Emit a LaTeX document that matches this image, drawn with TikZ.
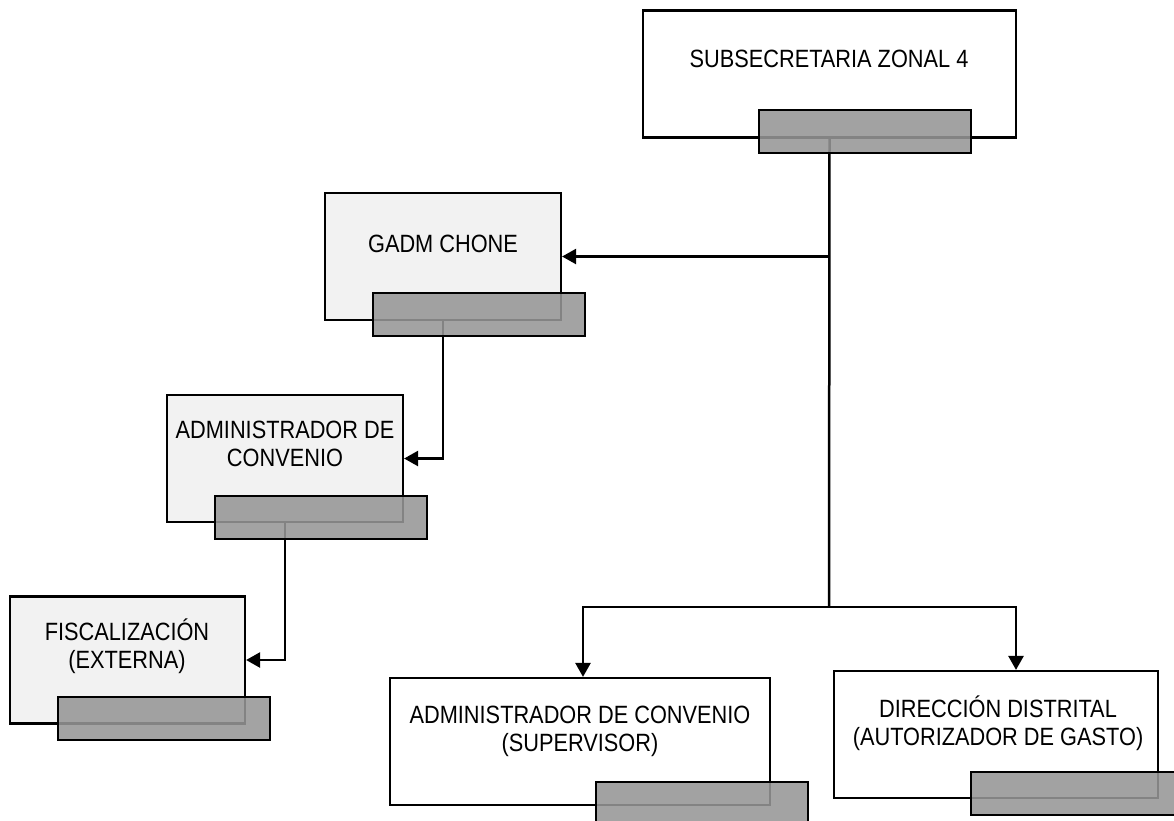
\documentclass[tikz,border=0pt]{standalone}
\usepackage{fontspec}
\setmainfont{Liberation Sans}[FakeStretch=0.87]
\usetikzlibrary{arrows.meta}

\definecolor{grisclaro}{RGB}{242,242,242}
\definecolor{grisbarra}{RGB}{150,150,150}

\begin{document}
\begin{tikzpicture}[x=1pt,y=-1pt,
    caja/.style={draw=black,line width=2.2pt,fill=white,inner sep=0pt,minimum height=127pt},
    cajagris/.style={caja,fill=grisclaro},
    barra/.style={draw=black,line width=2.2pt,fill=grisbarra,fill opacity=0.88,%
      inner sep=0pt,minimum width=212pt,minimum height=43pt,anchor=north west},
    texto/.style={align=center,inner sep=0pt,font=\fontsize{25}{28}\selectfont},
    linea/.style={line width=2.5pt},
    flecha/.style={line width=2.5pt,-{Triangle[length=14pt,width=15pt]}}]
      \useasboundingbox (0,0) rectangle (1174,820) ;
      % cajas
      \node[caja,minimum width=373pt] (zon) at (829.5,74) {} ;
      \node[cajagris,minimum width=236pt] (gadm) at (443,256.5) {} ;
      \node[cajagris,minimum width=236pt] (adm) at (285,458.5) {} ;
      \node[cajagris,minimum width=235pt] (fis) at (127.5,660) {} ;
      \node[caja,minimum width=380pt] (sup) at (580,741.5) {} ;
      \node[caja,minimum width=324pt] (dir) at (996,734.5) {} ;
      % textos
      \node[texto] (zon-t) at (829,59) {SUBSECRETARIA ZONAL 4} ;
      \node[texto] (gadm-t) at (443,244) {GADM CHONE} ;
      \node[texto] (adm-t) at (285,444) {ADMINISTRADOR DE\\CONVENIO} ;
      \node[texto] (fis-t) at (127,646) {FISCALIZACIÓN\\(EXTERNA)} ;
      \node[texto] (sup-t) at (580,731) {ADMINISTRADOR DE CONVENIO\\(SUPERVISOR)} ;
      \node[texto] (dir-t) at (998,723) {DIRECCIÓN DISTRITAL\\(AUTORIZADOR DE GASTO)} ;
      % conectores
      \coordinate (ramal) at (829,607) ;
      \draw[linea] (zon.south) -- (ramal) ;
      \draw[flecha] (zon.south |- gadm.east) -- (gadm.east) ;
      \draw[flecha] (gadm.south) |- (adm.east) ;
      \draw[flecha] (adm.south) |- (fis.east) ;
      \draw[flecha] (ramal) -| ([xshift=3pt]sup.north) ;
      \draw[flecha] (ramal) -| ([xshift=20pt]dir.north) ;
      % barras grises
      \node[barra] (zon-b) at (758,109) {} ;
      \node[barra] (gadm-b) at (372,292) {} ;
      \node[barra] (adm-b) at (214,495) {} ;
      \node[barra] (fis-b) at (57,696) {} ;
      \node[barra] (sup-b) at (595,781) {} ;
      \node[barra] (dir-b) at (970,771) {} ;
    \end{tikzpicture}
\end{document}
